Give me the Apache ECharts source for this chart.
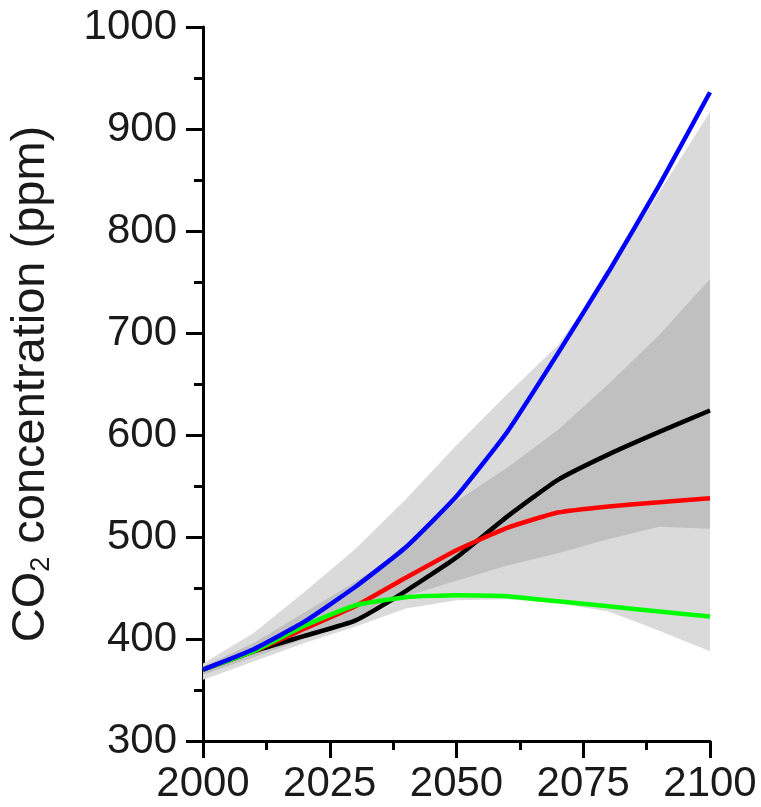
<!DOCTYPE html>
<html>
<head>
<meta charset="utf-8">
<script src="https://cdn.jsdelivr.net/npm/echarts@6/dist/echarts.min.js"></script>
<style>
html,body{margin:0;padding:0;background:#fff;}
#chart{width:761px;height:807px;}
</style>
</head>
<body>
<div id="chart"></div>
<script>
var years = [2000, 2010, 2020, 2030, 2040, 2050, 2060, 2070, 2080, 2090, 2100];
var blueVals  = [370, 390, 417, 451, 490, 540, 603, 680, 760, 845, 936];
var redVals   = [370, 388, 410, 432, 460, 487, 509, 524, 530, 534, 538];
var greenVals = [370, 388, 413, 433, 441, 443, 442, 437, 432, 427, 422];
var blackVals = [370, 388, 403, 418, 447, 480, 520, 556, 581, 603, 624];
var lightUpper = [376, 406, 446, 488, 537, 590, 640, 688, 758, 838, 917];
var lightLower = [360, 378, 396, 412, 430, 438, 439, 435, 427, 408, 388];
var darkUpper  = [373, 396, 426, 456, 490, 535, 568, 605, 650, 698, 753];
var darkLower  = [365, 382, 400, 417, 442, 457, 472, 484, 498, 510, 508];
var xTicks = [2000, 2025, 2050, 2075, 2100];
var yTicks = [300, 400, 500, 600, 700, 800, 900, 1000];

function pairs(vals){ return years.map(function(y,i){ return [y, vals[i]]; }); }

function bandSeries(upper, lower, color){
  return {
    type: 'custom',
    coordinateSystem: 'cartesian2d',
    clip: true,
    silent: true,
    data: [[years[0], lower[0]]],
    renderItem: function(params, api){
      var pts = [];
      for (var i = 0; i < years.length; i++) pts.push(api.coord([years[i], upper[i]]));
      for (var j = years.length - 1; j >= 0; j--) pts.push(api.coord([years[j], lower[j]]));
      return { type: 'polygon', shape: { points: pts }, style: { fill: color } };
    }
  };
}

function lineSeries(vals, color){
  return {
    type: 'line',
    data: pairs(vals),
    symbol: 'none',
    smooth: 0.15,
    lineStyle: { color: color, width: 4.5 },
    z: 3
  };
}

var chart = echarts.init(document.getElementById('chart'), null, {renderer: 'canvas'});
var font = 'Liberation Sans, Arial, sans-serif';
chart.setOption({
  animation: false,
  backgroundColor: '#ffffff',
  grid: { left: 203, right: 51, top: 27, bottom: 66, containLabel: false },
  xAxis: {
    type: 'value', min: xTicks[0], max: xTicks[xTicks.length-1], interval: 25,
    axisLine: { show: true, onZero: false, lineStyle: { color: '#000', width: 3 } },
    axisTick: { show: true, inside: false, length: 17, lineStyle: { color: '#000', width: 3 } },
    minorTick: { show: true, splitNumber: 2, length: 9, lineStyle: { color: '#000', width: 3 } },
    splitLine: { show: false },
    axisLabel: { color: '#1a1a1a', fontSize: 42, fontFamily: font, margin: 22,
      formatter: function(v){ return String(v); } }
  },
  yAxis: {
    type: 'value', min: yTicks[0], max: yTicks[yTicks.length-1], interval: 100,
    axisLine: { show: true, onZero: false, lineStyle: { color: '#000', width: 3 } },
    axisTick: { show: true, inside: false, length: 17, lineStyle: { color: '#000', width: 3 } },
    minorTick: { show: true, splitNumber: 2, length: 9, lineStyle: { color: '#000', width: 3 } },
    splitLine: { show: false },
    axisLabel: { color: '#1a1a1a', fontSize: 42, fontFamily: font, margin: 26,
      formatter: function(v){ return String(v); } },
    name: '{a|CO}{b|2}{a| concentration (ppm)}',
    nameLocation: 'middle',
    nameRotate: 90,
    nameGap: 148,
    nameTextStyle: {
      rich: {
        a: { fontSize: 47, fontFamily: font, color: '#1a1a1a' },
        b: { fontSize: 27, fontFamily: font, color: '#1a1a1a', verticalAlign: 'bottom', padding: [20, 0, 0, 0] }
      }
    }
  },
  series: [
    bandSeries(lightUpper, lightLower, '#dadada'),
    bandSeries(darkUpper, darkLower, '#c0c0c0'),
    lineSeries(blackVals, '#000000'),
    lineSeries(redVals, '#ff0000'),
    lineSeries(greenVals, '#00ff00'),
    lineSeries(blueVals, '#0000ff')
  ]
});
</script>
</body>
</html>
